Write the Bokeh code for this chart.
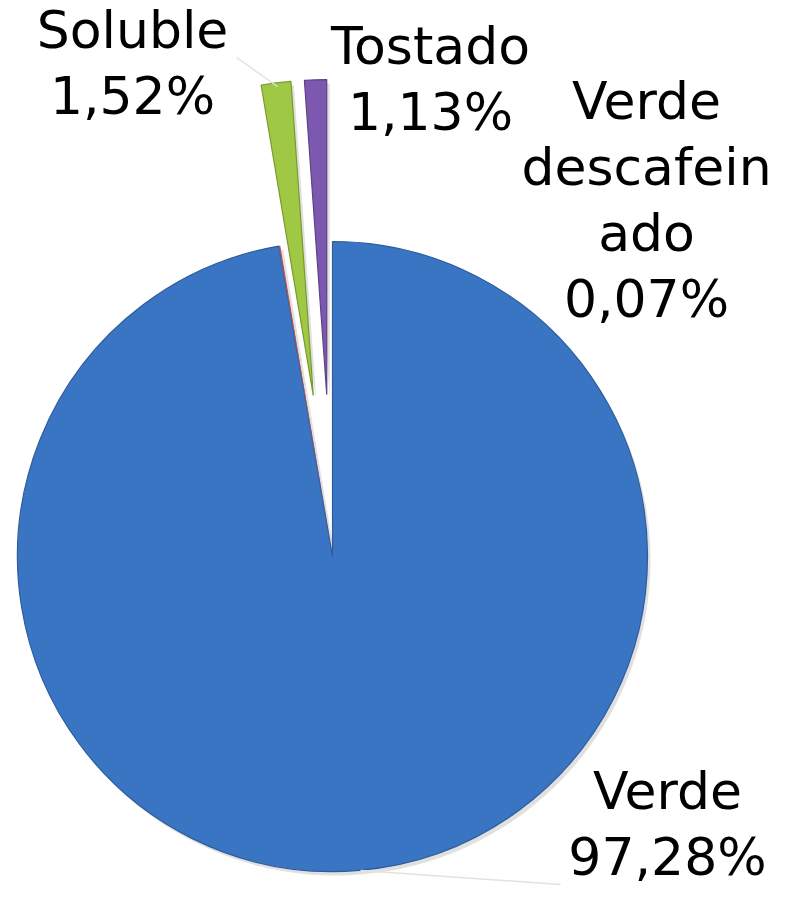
import math
from bokeh.plotting import figure
from bokeh.models import Range1d, ColumnDataSource
from bokeh.core.properties import value
from bokeh.embed import file_html
from bokeh.resources import INLINE

# ---- data ----
categories = ["Verde", "Verde descafeinado", "Soluble", "Tostado"]
label_names = ["Verde", "Verde\ndescafein\nado", "Soluble", "Tostado"]
shares = [97.28, 0.07, 1.52, 1.13]

# ---- style / layout ----
colors = ["#3a75c4", "#c0504d", "#9fc845", "#7c58b0"]
outline = ["#2d5c9c", None, "#7a9a2e", "#5e4384"]
explode = [0, 0, 162, 162]          # along each slice's bisector
W, H = 777, 888
REF_H = 904                          # layout units measured from the top
CX, CY, R = 332, REF_H - 556, 315
# label anchors: (centre x, first baseline from top)
label_anchor = [(667, 813), (646, 123), (132, 52), (430, 68)]
LINE_H = 66
BASE_FIX = 22.5                     # bokeh alphabetic anchor correction
FONT = value("DejaVu Sans")

p = figure(width=W, height=H, output_backend="svg", toolbar_location=None,
           x_range=Range1d(0, W), y_range=Range1d(REF_H - H, REF_H),
           x_axis_type=None, y_axis_type=None, min_border=0)
p.outline_line_color = None
p.grid.visible = False
p.background_fill_color = "white"

total = sum(shares)
cum = 0.0
xs, ys, sa, ea = [], [], [], []
for s, e in zip(shares, explode):
    f0 = cum / total
    f1 = (cum + s) / total
    cum += s
    mid = math.pi / 2 - 2 * math.pi * (f0 + f1) / 2
    xs.append(CX + e * math.cos(mid))
    ys.append(CY + e * math.sin(mid))
    sa.append(math.pi / 2 - 2 * math.pi * f0)
    ea.append(math.pi / 2 - 2 * math.pi * f1)

src = ColumnDataSource(dict(x=xs, y=ys, sa=sa, ea=ea, c=colors, lc=outline,
                            sx=[v + 3 for v in xs], sy=[v - 4 for v in ys],
                            cat=categories, share=shares))

# soft shadow
p.wedge(x="sx", y="sy", radius=R, start_angle="sa", end_angle="ea",
        direction="clock", fill_color="#000000", fill_alpha=0.12,
        line_color=None, source=src)
p.wedge(x="x", y="y", radius=R, start_angle="sa", end_angle="ea",
        direction="clock", fill_color="c", line_color="lc", line_width=1.2,
        source=src)

# leader lines (faint)
p.line(x=[236, 277], y=[REF_H - 57, REF_H - 86], line_color="#e2e2e2", line_width=1.5)
p.line(x=[360, 560], y=[REF_H - 870, REF_H - 884], line_color="#e2e2e2", line_width=1.5)

# labels
lx, ly, lt = [], [], []
for name, sh, (ax, ay) in zip(label_names, shares, label_anchor):
    lines = name.split("\n") + [f"{sh:.2f}".replace(".", ",") + "%"]
    for i, t in enumerate(lines):
        lx.append(ax)
        ly.append(REF_H - (ay + i * LINE_H - BASE_FIX))
        lt.append(t)
p.text(x=lx, y=ly, text=lt, text_align="center", text_baseline="alphabetic",
       text_font=FONT, text_font_size="52px", text_color="#000000")

open("out.html", "w").write(file_html(p, INLINE))
